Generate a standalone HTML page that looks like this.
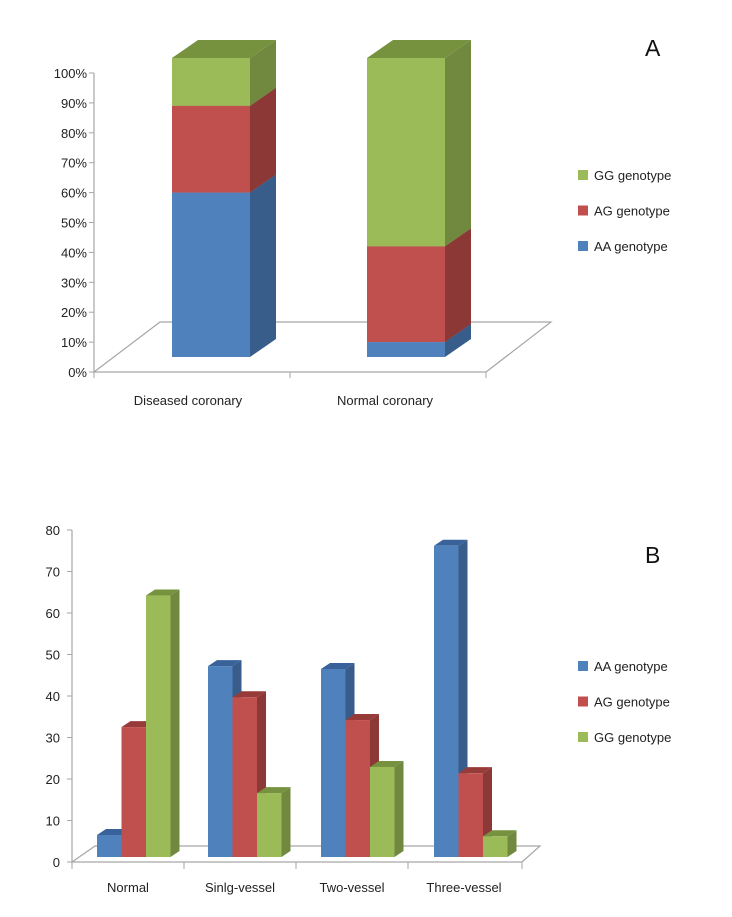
<!DOCTYPE html>
<html><head><meta charset="utf-8"><style>
body{margin:0;background:#fff;}
svg{display:block;font-family:"Liberation Sans",sans-serif;}
</style></head><body>
<svg id="s" width="732" height="917" viewBox="0 0 732 917" xmlns="http://www.w3.org/2000/svg">
<rect width="732" height="917" fill="#fff"/>
<g id="chartA"></g>
<g id="chartB"></g>
</svg>
<script>
// Chart A data (percent stacked)
const catsA = ["Diseased coronary", "Normal coronary"];
const seriesNamesA = ["AA genotype", "AG genotype", "GG genotype"];
const aaA = [55, 5];
const agA = [29, 32];
const ggA = [16, 63];
const ticksA = ["0%","10%","20%","30%","40%","50%","60%","70%","80%","90%","100%"];
// Chart B data
const catsB = ["Normal", "Sinlg-vessel", "Two-vessel", "Three-vessel"];
const seriesNamesB = ["AA genotype", "AG genotype", "GG genotype"];
const aaB = [5.3, 46, 45.3, 75];
const agB = [31.3, 38.5, 33, 20.2];
const ggB = [63, 15.4, 21.7, 5];
const ticksB = [0,10,20,30,40,50,60,70,80];

const NS="http://www.w3.org/2000/svg";
const COL={front:["#4f81bd","#c0504d","#9bbb59"],side:["#385d8a","#8c3836","#71893f"],top:["#3a629a","#973b39","#76923f"]};
function el(parent,tag,attrs,text){const e=document.createElementNS(NS,tag);for(const k in attrs)e.setAttribute(k,attrs[k]);if(text!==undefined)e.textContent=text;parent.appendChild(e);return e;}
function box(g,x,w,yTop,yBot,dx,dy,i,name){
  const b=el(g,"g",{});
  
  
  el(b,"polygon",{points:`${x+w},${yBot} ${x+w+dx},${yBot+dy} ${x+w+dx},${yTop+dy} ${x+w},${yTop}`,fill:COL.side[i]});
  el(b,"polygon",{points:`${x},${yTop} ${x+dx},${yTop+dy} ${x+w+dx},${yTop+dy} ${x+w},${yTop}`,fill:COL.top[i]});
  el(b,"rect",{x:x,y:yTop,width:w,height:yBot-yTop,fill:COL.front[i]});
}
function legend(g,names,order,y0,gap){
  order.forEach((si,k)=>{
    const y=y0+k*gap;
    const le=el(g,"g",{});
    
    
    el(le,"rect",{x:578,y:y-5,width:10,height:10,fill:COL.front[si]});
    el(le,"text",{x:594,y:y+5,"font-size":13,fill:"#222"},names[si]);
  });
}
// ---- Chart A ----
(function(){
  const g=document.getElementById("chartA");
  const axX=94, y0=372, y100=73;
  const yA=v=>y0-(y0-y100)*v/100;
  el(g,"polygon",{points:"94,372 160,322 551,322 486,372",fill:"none",stroke:"#a6a6a6","stroke-width":1.2});
  el(g,"line",{x1:axX,y1:y100,x2:axX,y2:y0,stroke:"#a6a6a6","stroke-width":1.2});
  ticksA.forEach((t,i)=>{const y=yA(i*10);
    el(g,"line",{x1:axX-5,y1:y,x2:axX,y2:y,stroke:"#a6a6a6"});
    el(g,"text",{x:axX-7,y:y+5,"font-size":13,"text-anchor":"end",fill:"#222"},t);});
  [94,290,486].forEach(x=>el(g,"line",{x1:x,y1:372,x2:x,y2:378,stroke:"#a6a6a6"}));
  const bBot=357, bTop=58, sc=v=>(bBot-bTop)*v/100;
  const bx=[172,367], bw=78, dx=26, dy=-18;
  const series=[aaA,agA,ggA];
  catsA.forEach((c,ci)=>{
    let cum=0;
    series.forEach((s,si)=>{
      const yb=bBot-sc(cum); cum+=s[ci]; const yt=bBot-sc(cum);
      box(g,bx[ci],bw,yt,yb,dx,dy,si,'bar-'+seriesNamesA[si].split(' ')[0].toLowerCase()+'-'+(ci+1));
    });
    const cx=[188,385][ci];
    const t=el(g,"text",{x:cx,y:405,"font-size":13,"text-anchor":"middle",fill:"#222"},c);
    
    
  });
  legend(g,seriesNamesA,[2,1,0],175,35.5);
  el(g,"text",{x:645,y:56,"font-size":23,fill:"#111"},"A");
})();
// ---- Chart B ----
(function(){
  const g=document.getElementById("chartB");
  const axX=72, y0=862, yMax=530;
  const yB=v=>y0-(y0-yMax)*v/80;
  el(g,"polygon",{points:"72,862 95,846 540,846 522,862",fill:"none",stroke:"#a6a6a6","stroke-width":1.2});
  el(g,"line",{x1:axX,y1:yMax,x2:axX,y2:y0,stroke:"#a6a6a6","stroke-width":1.2});
  ticksB.forEach(t=>{const y=yB(t);
    el(g,"line",{x1:axX-5,y1:y,x2:axX,y2:y,stroke:"#a6a6a6"});
    el(g,"text",{x:axX-12,y:y+5,"font-size":13,"text-anchor":"end",fill:"#222"},String(t));});
  [72,184,296,408,522].forEach(x=>el(g,"line",{x1:x,y1:862,x2:x,y2:869,stroke:"#a6a6a6"}));
  const bBot=857, sc=v=>(y0-yMax)*v/80;
  const gx=[97,208,321,434], bw=24.5, dx=9, dy=-6;
  const series=[aaB,agB,ggB];
  catsB.forEach((c,ci)=>{
    series.forEach((s,si)=>{
      box(g,gx[ci]+si*bw,bw,bBot-sc(s[ci]),bBot,dx,dy,si,'bar-'+seriesNamesB[si].split(' ')[0].toLowerCase()+'-'+(ci+1));
    });
    const t=el(g,"text",{x:[128,240,352,464][ci],y:892,"font-size":13,"text-anchor":"middle",fill:"#222"},c);
    
    
  });
  legend(g,seriesNamesB,[0,1,2],666,35.5);
  el(g,"text",{x:645,y:563,"font-size":23,fill:"#111"},"B");
})();
</script>
</body></html>
